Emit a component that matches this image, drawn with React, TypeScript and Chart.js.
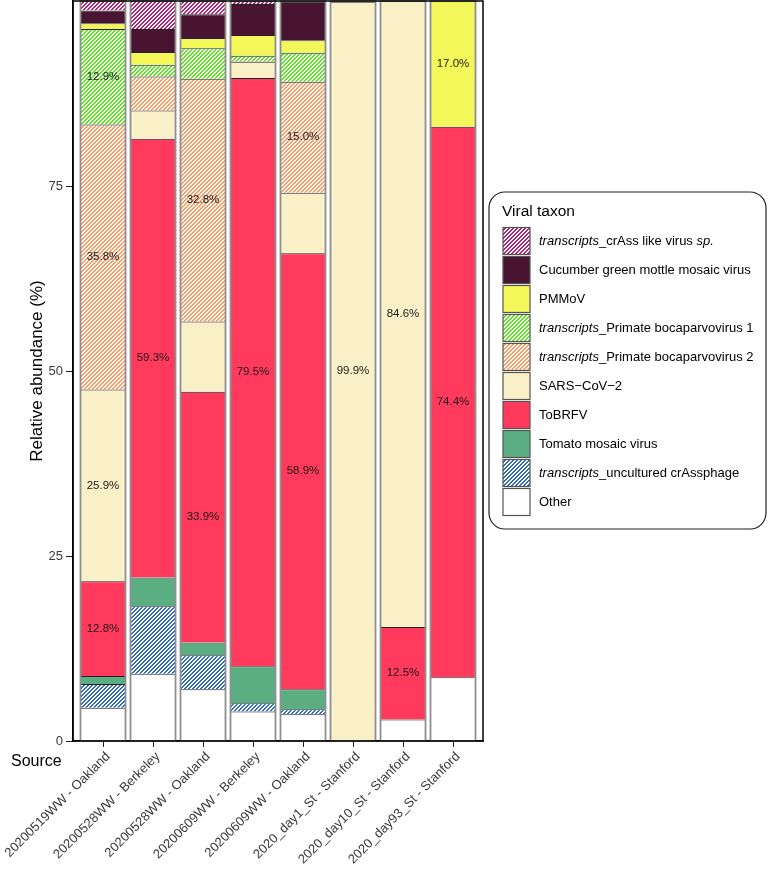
import React, { useEffect, useRef } from 'react';
import { Chart, registerables } from 'chart.js';

Chart.register(...registerables);

const FONT = '"Liberation Sans", Arial, Helvetica, sans-serif';

const categories = [
  '20200519WW - Oakland',
  '20200528WW - Berkeley',
  '20200528WW - Oakland',
  '20200609WW - Berkeley',
  '20200609WW - Oakland',
  '2020_day1_St - Stanford',
  '2020_day10_St - Stanford',
  '2020_day93_St - Stanford',
];

// values (%) bottom -> top of each stack
const other = [4.5, 9.1, 7.0, 4.0, 3.6, 0, 2.9, 8.6];
const uncultCrAssphage = [3.2, 9.1, 4.6, 1.1, 0.7, 0, 0, 0];
const tomatoMosaic = [1.1, 3.9, 1.7, 5.0, 2.7, 0, 0, 0];
const toBRFV = [12.8, 59.3, 33.9, 79.5, 58.9, 0, 12.5, 74.4];
const sarsCoV2 = [25.9, 3.8, 9.5, 2.2, 8.2, 99.9, 84.6, 0];
const bocaparvo2 = [35.8, 4.6, 32.8, 0.1, 15.0, 0, 0, 0];
const bocaparvo1 = [12.9, 1.6, 4.1, 0.7, 3.9, 0, 0, 0];
const pmmov = [0.8, 1.7, 1.4, 2.8, 1.7, 0, 0, 17.0];
const cucumberGMMV = [1.7, 3.1, 3.2, 4.2, 5.2, 0, 0, 0];
const crAssLike = [1.3, 3.8, 1.8, 0.4, 0.1, 0.1, 0, 0];

const seriesValues = [
  other, uncultCrAssphage, tomatoMosaic, toBRFV, sarsCoV2,
  bocaparvo2, bocaparvo1, pmmov, cucumberGMMV, crAssLike,
];
const seriesLabels = [
  'Other',
  '*transcripts*_uncultured crAssphage',
  'Tomato mosaic virus',
  'ToBRFV',
  'SARS\u2212CoV\u22122',
  '*transcripts*_Primate bocaparvovirus 2',
  '*transcripts*_Primate bocaparvovirus 1',
  'PMMoV',
  'Cucumber green mottle mosaic virus',
  '*transcripts*_crAss like virus *sp.*',
];
// [main colour, hatch background or null]
const seriesColors: [string, string | null][] = [
  ['#ffffff', null],
  ['#2f6db6', '#ffffff'],
  ['#5aae82', null],
  ['#ff3a5c', null],
  ['#faf0c8', null],
  ['#f6a06c', '#fff8f2'],
  ['#62e02a', '#f6fff0'],
  ['#f4f75a', null],
  ['#481431', null],
  ['#a52a72', '#fbeef6'],
];
const yTicks = [0, 25, 50, 75];

function makeFill(color: string, bg: string | null): string | CanvasPattern {
  if (!bg) return color;
  const t = document.createElement('canvas');
  t.width = 4;
  t.height = 4;
  const c = t.getContext('2d')!;
  for (let x = 0; x < 4; x++) {
    for (let y = 0; y < 4; y++) {
      c.fillStyle = (x + y) % 4 < 2 ? color : bg;
      c.fillRect(x, y, 1, 1);
    }
  }
  return c.createPattern(t, 'repeat')!;
}

function drawRich(ctx: CanvasRenderingContext2D, text: string, x: number, y: number, size: number) {
  const parts = text.split('*');
  let cx = x;
  parts.forEach((p, i) => {
    if (!p) return;
    ctx.font = `${i % 2 === 1 ? 'italic ' : ''}${size}px ${FONT}`;
    ctx.fillText(p, cx, y);
    cx += ctx.measureText(p).width;
  });
}

export default function App() {
  const ref = useRef<HTMLCanvasElement>(null);
  useEffect(() => {
    const canvas = ref.current!;
    const fills = seriesColors.map(([c, bg]) => makeFill(c, bg));
    const totals = categories.map((_, i) => seriesValues.reduce((s, arr) => s + arr[i], 0));

    const extras = {
      id: 'extras',
      afterDatasetsDraw(chart: any) {
        const ctx = chart.ctx as CanvasRenderingContext2D;
        const xs = chart.scales.x;
        const ys = chart.scales.y;
        const el0 = chart.getDatasetMeta(3).data.find((e: any) => e && e.width) || { width: 45 };
        const w = el0.width;
        ctx.save();
        // grey outer frame of each bar
        categories.forEach((_, i) => {
          const cx = xs.getPixelForValue(i);
          const top = ys.getPixelForValue(totals[i]);
          const base = ys.getPixelForValue(0);
          ctx.strokeStyle = '#8f8f8f';
          ctx.lineWidth = 1.8;
          ctx.strokeRect(cx - w / 2, top, w, base - top);
        });
        // value labels
        ctx.fillStyle = '#1a1a1a';
        ctx.font = `11.5px ${FONT}`;
        ctx.textAlign = 'center';
        ctx.textBaseline = 'middle';
        chart.data.datasets.forEach((ds: any, di: number) => {
          const meta = chart.getDatasetMeta(di);
          meta.data.forEach((el: any, i: number) => {
            const v = seriesValues[di][i];
            if (v >= 10) {
              ctx.fillText(`${v.toFixed(1)}%`, el.x, (el.y + el.base) / 2);
            }
          });
        });
        ctx.restore();
      },
      afterDraw(chart: any) {
        const ctx = chart.ctx as CanvasRenderingContext2D;
        const a = chart.chartArea;
        ctx.save();
        // panel border
        ctx.strokeStyle = '#000';
        ctx.lineWidth = 1.5;
        ctx.strokeRect(a.left, a.top, a.right - a.left, a.bottom - a.top);
        // y title
        ctx.fillStyle = '#000';
        ctx.font = `17px ${FONT}`;
        ctx.textAlign = 'center';
        ctx.textBaseline = 'middle';
        ctx.save();
        ctx.translate(37, (a.top + a.bottom) / 2);
        ctx.rotate(-Math.PI / 2);
        ctx.fillText('Relative abundance (%)', 0, 0);
        ctx.restore();
        // x title
        ctx.font = `16px ${FONT}`;
        ctx.textAlign = 'left';
        ctx.fillText('Source', 11, 762);
        // legend
        const lx = 489, ly = 192, lw = 277, lh = 337, r = 16;
        ctx.beginPath();
        ctx.moveTo(lx + r, ly);
        ctx.lineTo(lx + lw - r, ly);
        ctx.arcTo(lx + lw, ly, lx + lw, ly + r, r);
        ctx.lineTo(lx + lw, ly + lh - r);
        ctx.arcTo(lx + lw, ly + lh, lx + lw - r, ly + lh, r);
        ctx.lineTo(lx + r, ly + lh);
        ctx.arcTo(lx, ly + lh, lx, ly + lh - r, r);
        ctx.lineTo(lx, ly + r);
        ctx.arcTo(lx, ly, lx + r, ly, r);
        ctx.closePath();
        ctx.fillStyle = '#fff';
        ctx.fill();
        ctx.strokeStyle = '#222';
        ctx.lineWidth = 1.2;
        ctx.stroke();
        ctx.fillStyle = '#000';
        ctx.font = `15.5px ${FONT}`;
        ctx.fillText('Viral taxon', 502, 212);
        const n = seriesLabels.length;
        for (let k = 0; k < n; k++) {
          const si = n - 1 - k;
          const cy = 241 + k * 29;
          ctx.fillStyle = fills[si] as any;
          ctx.fillRect(503, cy - 13.5, 27, 27);
          ctx.strokeStyle = '#555';
          ctx.lineWidth = 1.2;
          ctx.strokeRect(503, cy - 13.5, 27, 27);
          ctx.fillStyle = '#000';
          ctx.textBaseline = 'middle';
          drawRich(ctx, seriesLabels[si], 539, cy, 13);
        }
        ctx.restore();
      },
    };

    const chart = new Chart(canvas, {
      type: 'bar',
      data: {
        datasets: seriesValues.map((vals, si) => ({
          label: seriesLabels[si],
          data: vals.map((v, i) => ({ x: i, y: v > 0 ? v : null })) as any,
          backgroundColor: fills[si] as any,
          borderColor: '#222',
          borderWidth: { top: 1, bottom: 0, left: 0, right: 0 },
          borderSkipped: false,
          barPercentage: 0.9,
          categoryPercentage: 1,
        })),
      },
      options: {
        animation: false,
        responsive: false,
        devicePixelRatio: 1,
        layout: { padding: { top: 1, right: 287, left: 0, bottom: 0 } },
        plugins: { legend: { display: false }, tooltip: { enabled: false } },
        scales: {
          x: {
            type: 'linear',
            stacked: true,
            offset: false,
            min: -0.6,
            max: categories.length - 0.4,
            afterBuildTicks: (s: any) => {
              s.ticks = categories.map((_, i) => ({ value: i }));
            },
            afterFit: (s: any) => {
              s.height = 130;
              s.paddingLeft = 0;
              s.paddingRight = 0;
            },
            ticks: {
              autoSkip: false,
              minRotation: 45,
              maxRotation: 45,
              padding: 2,
              labelOffset: 5,
              color: '#3a3a3a',
              font: { family: FONT, size: 13 },
              callback: (v: any) => categories[v as number] ?? '',
            },
            grid: { offset: false, drawOnChartArea: false, drawTicks: true, tickLength: 6, color: '#222', lineWidth: 1 },
            border: { display: true, color: '#000', width: 1.5 },
          },
          y: {
            stacked: true,
            min: 0,
            max: 100,
            afterBuildTicks: (s: any) => {
              s.ticks = yTicks.map((v) => ({ value: v }));
            },
            afterFit: (s: any) => {
              s.width = 73;
              s.paddingTop = 0;
              s.paddingBottom = 0;
            },
            ticks: {
              padding: 3,
              color: '#3a3a3a',
              font: { family: FONT, size: 13 },
            },
            grid: { drawOnChartArea: false, drawTicks: true, tickLength: 7, color: '#222', lineWidth: 1 },
            border: { display: true, color: '#000', width: 1.5 },
          },
        },
      },
      plugins: [extras],
    });
    return () => chart.destroy();
  }, []);

  return (
    <div style={{ position: 'absolute', left: 0, top: 0, width: 770, height: 871, background: '#fff' }}>
      <canvas ref={ref} width={770} height={871} style={{ display: 'block' }} />
    </div>
  );
}
